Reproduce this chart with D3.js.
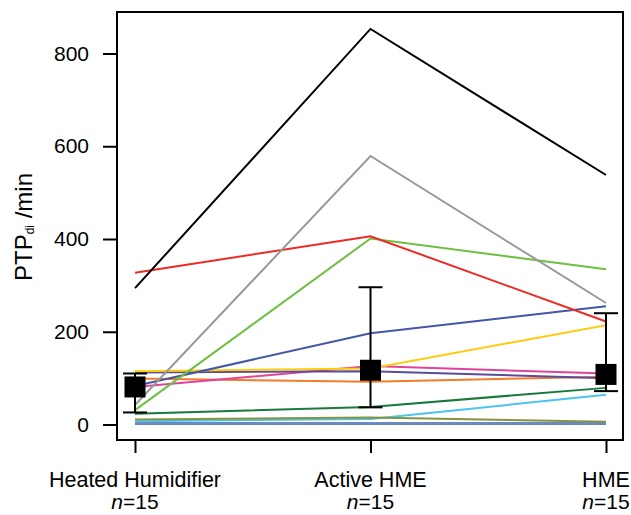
<!DOCTYPE html>
<html>
<head>
<meta charset="utf-8">
<script src="https://cdn.jsdelivr.net/npm/d3@7"></script>
<style>
  body { margin: 0; background: #fff; }
  svg { display: block; font-family: "Liberation Sans", Arial, sans-serif; }
</style>
</head>
<body>
<div id="chart"></div>
<script>
const width = 631;
const height = 515;

// categories and per-subject values
const categories = ["Heated Humidifier", "Active HME", "HME"];
const nLabels = ["15", "15", "15"];
const yTicks = [0, 200, 400, 600, 800];

const subjectColors = ["#000000", "#999999", "#ee2a24", "#6dbf3f", "#4257a8", "#ffcc11", "#5b4b9b",
  "#e0449a", "#f47b2a", "#177a3c", "#849440", "#4cc4ee", "#6a8ac4", "#4a6fb0", "#8aa0c8"];
const heatedValues = [294, 42, 327, 31, 83, 115, 112, 81, 99, 23, 11, 7, 3, 2, 1];
const activeValues = [853, 579, 406, 401, 197, 121, 115, 126, 92, 38, 15, 12, 3, 2, 1];
const hmeValues = [538, 262, 222, 335, 255, 214, 100, 110, 103, 79, 6, 64, 3, 2, 1];

// summary marker and whiskers
const centerValues = [81, 117, 108];
const lowerValues = [26, 37, 72];
const upperValues = [110, 296, 240];

const box = { left: 117, right: 623, top: 12, bottom: 440 };

const svg = d3.select("#chart")
  .append("svg")
  .attr("width", width)
  .attr("height", height);

const x = d3.scalePoint()
  .domain(categories)
  .range([135, 606]);

const y = d3.scaleLinear()
  .domain([-33.4, 889.5])
  .range([box.bottom, box.top]);

// subject lines
const subjects = subjectColors.map((c, i) => ({
  color: c,
  values: [heatedValues[i], activeValues[i], hmeValues[i]]
}));

const line = d3.line()
  .x((d, i) => x(categories[i]))
  .y(d => y(d));

svg.append("g")
  .selectAll("path")
  .data(subjects.slice().reverse())
  .enter()
  .append("path")
  .attr("d", d => line(d.values))
  .attr("fill", "none")
  .attr("stroke", d => d.color)
  .attr("stroke-width", 2);

// whiskers + squares
const summary = categories.map((c, i) => ({
  cat: c, mid: centerValues[i], lo: lowerValues[i], hi: upperValues[i]
}));

const sg = svg.append("g");
sg.selectAll("line.stem")
  .data(summary)
  .enter()
  .append("line")
  .attr("class", "stem")
  .attr("x1", d => x(d.cat)).attr("x2", d => x(d.cat))
  .attr("y1", d => y(d.lo)).attr("y2", d => y(d.hi))
  .attr("stroke", "#000").attr("stroke-width", 2);

["lo", "hi"].forEach(k => {
  sg.selectAll("line.cap-" + k)
    .data(summary)
    .enter()
    .append("line")
    .attr("x1", d => x(d.cat) - 12).attr("x2", d => x(d.cat) + 12)
    .attr("y1", d => y(d[k])).attr("y2", d => y(d[k]))
    .attr("stroke", "#000").attr("stroke-width", 2);
});

sg.selectAll("rect")
  .data(summary)
  .enter()
  .append("rect")
  .attr("x", d => x(d.cat) - 10.5)
  .attr("y", d => y(d.mid) - 10.5)
  .attr("width", 21)
  .attr("height", 21)
  .attr("fill", "#000");

// frame
svg.append("rect")
  .attr("x", box.left)
  .attr("y", box.top)
  .attr("width", box.right - box.left)
  .attr("height", box.bottom - box.top)
  .attr("fill", "none")
  .attr("stroke", "#000")
  .attr("stroke-width", 2);

// y axis
const yAxis = svg.append("g")
  .attr("transform", `translate(${box.left},0)`)
  .call(d3.axisLeft(y).tickValues(yTicks).tickSize(14).tickPadding(14));
yAxis.select(".domain").remove();
yAxis.selectAll("line").attr("stroke-width", 2);
yAxis.selectAll("text")
  .attr("font-size", 21)
  .attr("font-family", "Liberation Sans, Arial, sans-serif")
  .attr("fill", "#000");

// x axis
const xAxis = svg.append("g")
  .attr("transform", `translate(0,${box.bottom})`)
  .call(d3.axisBottom(x).tickSize(13).tickFormat(""));
xAxis.select(".domain").remove();
xAxis.selectAll("line").attr("stroke-width", 2);

const xl = svg.append("g")
  .attr("font-size", 21.5)
  .attr("text-anchor", "middle")
  .attr("fill", "#000");

xl.selectAll("text.cat")
  .data(categories)
  .enter()
  .append("text")
  .attr("x", d => x(d))
  .attr("y", 487)
  .text(d => d);

const nt = xl.selectAll("text.n")
  .data(categories)
  .enter()
  .append("text")
  .attr("x", d => x(d))
  .attr("y", 509)
  .attr("font-size", 21);
nt.append("tspan").attr("font-style", "italic").text("n");
nt.append("tspan").text((d, i) => "=" + nLabels[i]);

// y label
const yl = svg.append("text")
  .attr("transform", "translate(32,227) rotate(-90)")
  .attr("text-anchor", "middle")
  .attr("font-size", 24)
  .attr("fill", "#000");
yl.append("tspan").text("PTP");
yl.append("tspan").attr("font-size", 12).attr("dy", 2).text("di");
yl.append("tspan").attr("dy", -2).text(" /min");
</script>
</body>
</html>
